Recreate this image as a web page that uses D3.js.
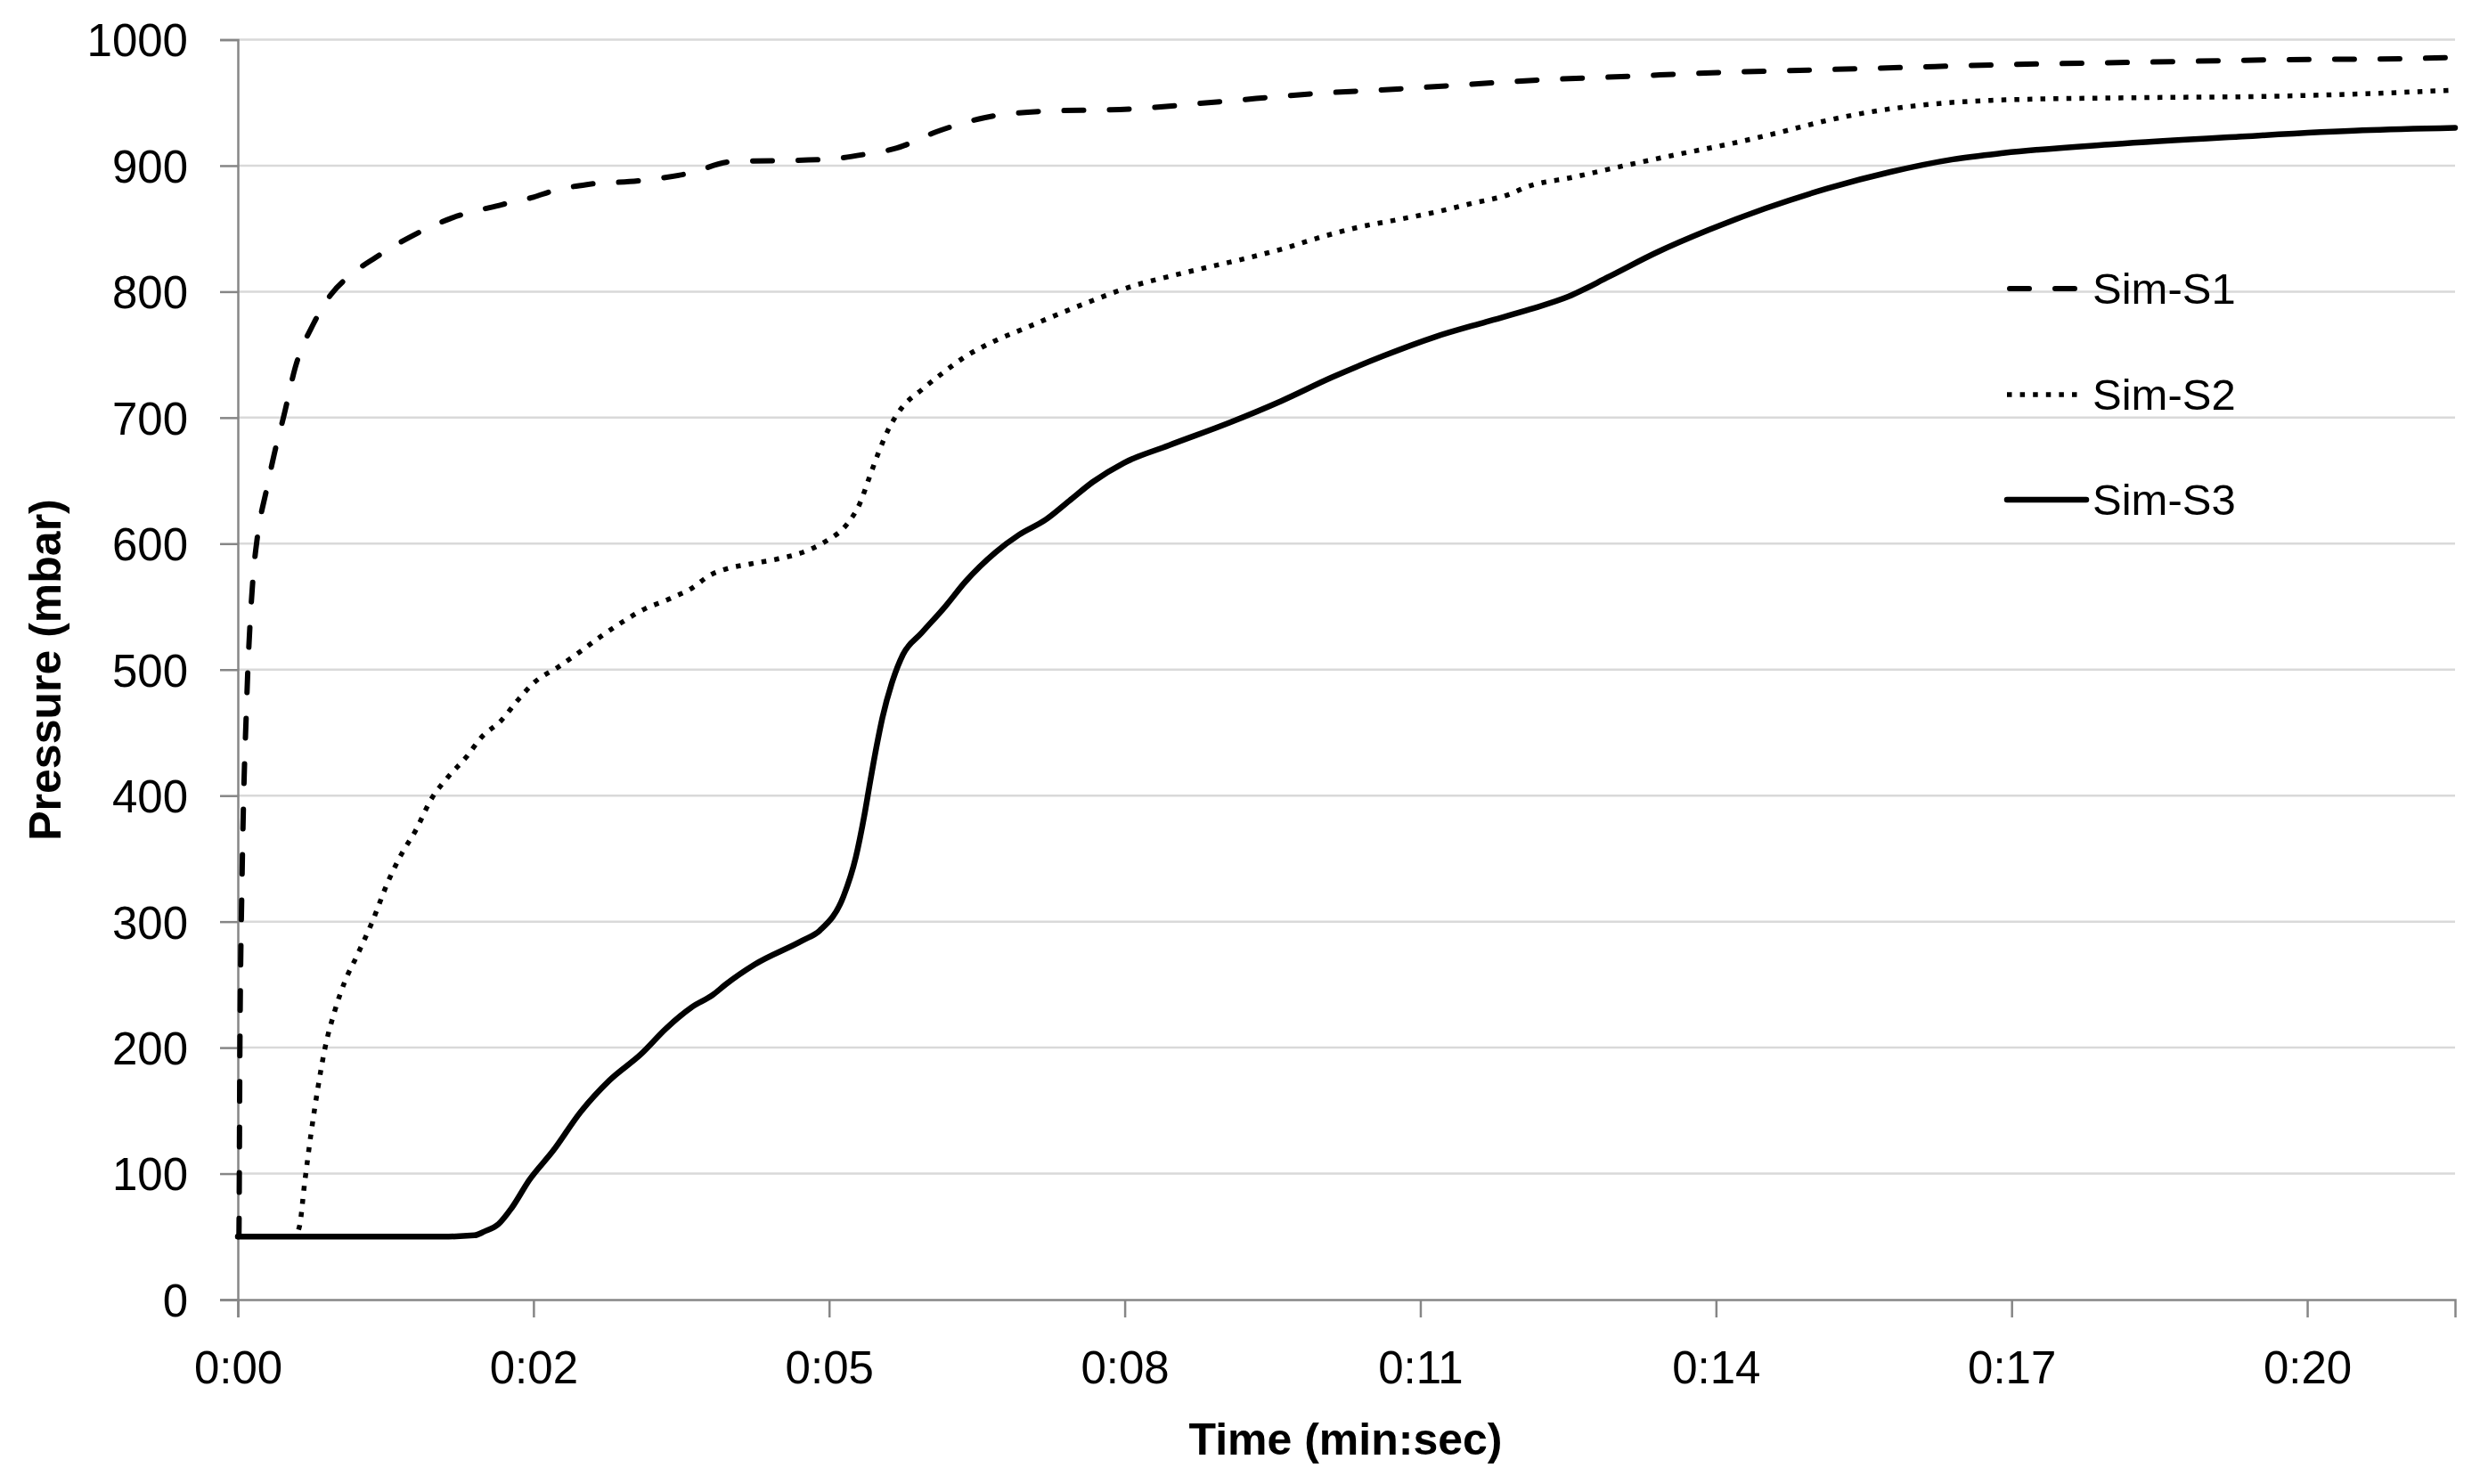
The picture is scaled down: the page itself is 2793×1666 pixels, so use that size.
<!DOCTYPE html>
<html>
<head>
<meta charset="utf-8">
<script src="https://cdn.jsdelivr.net/npm/d3@7"></script>
<style>
  html, body { margin: 0; padding: 0; background: #fff; }
  svg { display: block; }
  text { font-family: "Liberation Sans", Arial, sans-serif; fill: #000; }
</style>
</head>
<body>
<svg id="chart" width="2793" height="1666"></svg>
<script>
// ---- data (time in seconds, pressure in mbar) ----
const seriesNames = ["Sim-S1", "Sim-S2", "Sim-S3"];

const s1Time = [0, 0.01, 0.02, 0.04, 0.06, 0.08, 0.10, 0.125, 0.15, 0.19, 0.28, 0.36, 0.45, 0.56, 0.74, 0.91, 1.08, 1.34, 1.74, 2.07, 2.57, 2.88, 3.07, 3.40, 3.90, 4.40, 4.80, 5.73, 6.11, 6.42, 6.81, 7.27, 7.80, 8.70, 9.60, 10.46, 11.33, 12.69, 13.57, 14.46, 15.37, 16.25, 17.14, 18.48, 19.82, 21.15, 21.6];
const s1Pressure = [50, 50, 200, 330, 410, 460, 505, 545, 575, 605, 643, 673, 702, 740, 775, 798, 812, 827, 846, 858, 869, 875, 880, 885, 888, 894, 903, 905, 909, 914, 927, 938, 943, 945, 951, 957, 961, 968, 971, 974, 976, 978, 980, 982, 984, 985, 986];

const s2Time = [0, 0.30, 0.55, 0.60, 0.65, 0.71, 0.78, 0.85, 0.94, 1.04, 1.155, 1.30, 1.47, 1.59, 1.73, 1.89, 2.05, 2.23, 2.37, 2.57, 2.73, 2.89, 3.12, 3.33, 3.53, 3.75, 3.96, 4.20, 4.43, 4.60, 4.76, 5.00, 5.27, 5.50, 5.73, 5.93, 6.06, 6.15, 6.24, 6.34, 6.47, 6.66, 6.86, 7.06, 7.35, 7.67, 7.99, 8.33, 8.70, 9.07, 9.43, 9.80, 10.18, 10.54, 10.91, 11.29, 11.66, 12.02, 12.41, 12.52, 13.02, 13.51, 14.03, 14.52, 15.00, 15.49, 16.01, 16.53, 17.14, 18.57, 19.79, 20.70, 21.6];
const s2Pressure = [50, 50, 50, 58, 92, 130, 168, 200, 228, 252, 272, 298, 333, 353, 372, 398, 415, 431, 446, 460, 476, 490, 502, 514, 526, 538, 548, 556, 565, 575, 580, 584, 588, 593, 602, 615, 632, 652, 672, 691, 708, 722, 735, 747, 760, 771, 782, 793, 804, 812, 819, 826, 834, 843, 851, 857, 863, 870, 878, 882, 891, 900, 909, 917, 926, 936, 944, 949, 952, 954, 955, 957, 960];

const s3Time = [0, 1.0, 2.0, 2.305, 2.40, 2.54, 2.67, 2.84, 3.07, 3.34, 3.62, 3.93, 4.17, 4.42, 4.63, 4.75, 5.035, 5.50, 5.67, 5.90, 6.02, 6.105, 6.16, 6.22, 6.28, 6.37, 6.48, 6.66, 6.89, 7.09, 7.38, 7.61, 7.87, 8.10, 8.33, 8.63, 9.07, 9.66, 10.16, 10.66, 11.16, 11.66, 12.16, 12.59, 12.96, 13.36, 13.82, 14.33, 14.88, 15.49, 16.10, 16.71, 17.20, 18.26, 19.49, 20.70, 21.6];
const s3Pressure = [50, 50, 50, 51, 54, 60, 73, 95, 118, 149, 174, 195, 215, 232, 242, 250, 266, 285, 293, 320, 351, 385, 411, 438, 462, 489, 512, 529, 550, 570, 593, 607, 619, 634, 649, 664, 678, 696, 713, 732, 749, 764, 776, 786, 796, 812, 831, 849, 866, 882, 895, 905, 910, 917, 923, 928, 930];

const xTickSeconds = [0, 2.88, 5.76, 8.64, 11.52, 14.40, 17.28, 20.16];
const xTickLabels = ["0:00", "0:02", "0:05", "0:08", "0:11", "0:14", "0:17", "0:20"];
const yTickValues = [0, 100, 200, 300, 400, 500, 600, 700, 800, 900, 1000];

const xTitle = "Time (min:sec)";
const yTitle = "Pressure (mbar)";

// ---- layout ----
const svg = d3.select("#chart");
const plot = { left: 267, right: 2756, top: 44.5, bottom: 1459 };

const x = d3.scaleLinear().domain([0, 21.6]).range([plot.left, plot.right]);
const y = d3.scaleLinear().domain([0, 1000]).range([plot.bottom, plot.top]);

const axisColor = "#868686";
const gridColor = "#d9d9d9";

// gridlines
svg.append("g")
  .selectAll("line")
  .data(yTickValues.filter(v => v > 0))
  .join("line")
  .attr("x1", plot.left).attr("x2", plot.right)
  .attr("y1", d => y(d)).attr("y2", d => y(d))
  .attr("stroke", gridColor).attr("stroke-width", 2.5);

// y axis
const yAxis = d3.axisLeft(y).tickValues(yTickValues).tickSize(20).tickPadding(36).tickFormat(d3.format("d"));
const gy = svg.append("g").attr("transform", `translate(${plot.left},0)`).call(yAxis);
gy.select(".domain").attr("stroke", axisColor).attr("stroke-width", 2.5);
gy.selectAll(".tick line").attr("stroke", axisColor).attr("stroke-width", 2.5);
gy.selectAll(".tick text")
  .attr("font-size", 51).attr("font-family", "Liberation Sans, Arial, sans-serif")
  .attr("fill", "#000").attr("dy", "0.36em");

// x axis
const xAxis = d3.axisBottom(x).tickValues(xTickSeconds).tickSize(20).tickPadding(38)
  .tickFormat((d, i) => xTickLabels[i]);
const gx = svg.append("g").attr("transform", `translate(0,${plot.bottom})`).call(xAxis);
gx.select(".domain").attr("stroke", axisColor).attr("stroke-width", 2.5);
gx.selectAll(".tick line").attr("stroke", axisColor).attr("stroke-width", 2.5);
gx.selectAll(".tick text")
  .attr("font-size", 51).attr("font-family", "Liberation Sans, Arial, sans-serif")
  .attr("fill", "#000");

// axis titles
svg.append("text")
  .attr("x", (plot.left + plot.right) / 2 - 1)
  .attr("y", 1633)
  .attr("text-anchor", "middle")
  .attr("font-size", 50).attr("font-weight", "bold")
  .text(xTitle);

svg.append("text")
  .attr("transform", `translate(68,${752}) rotate(-90)`)
  .attr("text-anchor", "middle")
  .attr("font-size", 50).attr("font-weight", "bold")
  .text(yTitle);

// series
const styles = [
  { dash: "22,29", width: 6, cap: "round" },
  { dash: "5.5,9.1", width: 5.5, cap: "butt" },
  { dash: null, width: 6.5, cap: "round" }
];
const seriesData = [
  s1Time.map((t, i) => [t, s1Pressure[i]]),
  s2Time.map((t, i) => [t, s2Pressure[i]]),
  s3Time.map((t, i) => [t, s3Pressure[i]])
];

const line = d3.line()
  .x(d => x(d[0]))
  .y(d => y(d[1]))
  .curve(d3.curveMonotoneX);

svg.append("g")
  .selectAll("path")
  .data(seriesData)
  .join("path")
  .attr("d", d => line(d))
  .attr("fill", "none")
  .attr("stroke", "#000")
  .attr("stroke-width", (d, i) => styles[i].width)
  .attr("stroke-linecap", (d, i) => styles[i].cap)
  .attr("stroke-linejoin", "round")
  .attr("stroke-dasharray", (d, i) => styles[i].dash);

// legend
const legendY = [324, 443, 561];
const legend = svg.append("g")
  .selectAll("g")
  .data(seriesNames)
  .join("g")
  .attr("transform", (d, i) => `translate(0,${legendY[i]})`);

legend.append("line")
  .attr("x1", (d, i) => i === 0 ? 2256 : 2253)
  .attr("x2", (d, i) => i === 2 ? 2342 : (i === 0 ? 2332 : 2334))
  .attr("y1", 0).attr("y2", 0)
  .attr("stroke", "#000")
  .attr("stroke-width", (d, i) => styles[i].width)
  .attr("stroke-linecap", (d, i) => styles[i].cap)
  .attr("stroke-dasharray", (d, i) => styles[i].dash);

legend.append("text")
  .attr("x", 2349)
  .attr("y", 17)
  .attr("font-size", 49)
  .text(d => d);
</script>
</body>
</html>
